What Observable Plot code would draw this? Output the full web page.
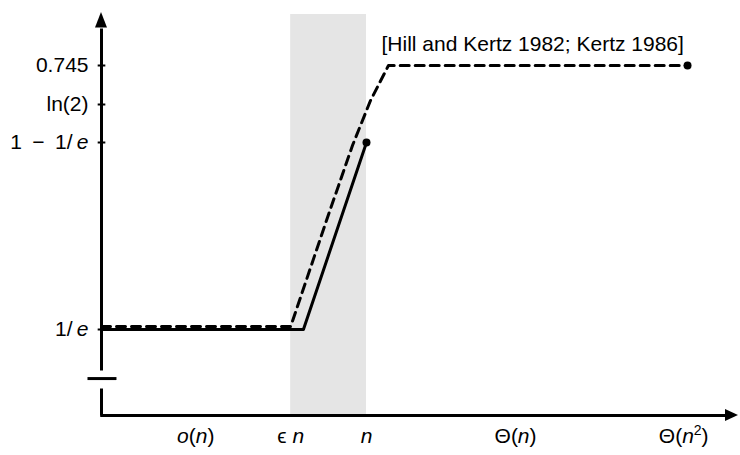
<!DOCTYPE html>
<html>
<head>
<meta charset="utf-8">
<script src="https://cdn.jsdelivr.net/npm/d3@7"></script>
<script src="https://cdn.jsdelivr.net/npm/@observablehq/plot@0.6"></script>
<style>
  html, body { margin: 0; padding: 0; background: #fff; }
</style>
</head>
<body>
<div id="chart"></div>
<script>
// ---- data (x in abstract units 0..100 along the horizontal axis; y in competitive ratio) ----
const invE = 1 / Math.E;            // 0.3679
const oneMinusInvE = 1 - 1 / Math.E; // 0.6321
const ln2 = Math.LN2;               // 0.6931
const topRatio = 0.745;

// solid curve
const solidX = [0, 31.7, 41.6];
const solidY = [invE, invE, oneMinusInvE];
// dashed curve [Hill and Kertz 1982; Kertz 1986]
const dashedX = [0, 29.7, 35.48, 39.4, 42.23, 45.05, 92];
const dashedY = [0.3721, 0.3721, 0.5262, 0.6279, 0.6984, topRatio, topRatio];

// shaded band between eps*n and n
const bandX = [29.7, 41.6];

// y tick values and labels (*...* = italic)
const yTickValues = [topRatio, ln2, oneMinusInvE, invE];
const yTickLabels = ["0.745", "ln(2)", "1\u2002\u2212\u20021/\u2009*e*", "1/\u2009*e*"];

// x tick positions and labels (*...* italic, ^...^ superscript)
const xTickValues = [14.8, 29.7, 41.6, 65, 91.4];
const xTickLabels = ["*o*(*n*)", "\u03f5 *n*", "*n*", "\u0398(*n*)", "\u0398(*n*^2^)"];

const refLabel = "[Hill and Kertz 1982; Kertz 1986]";

// ---- derived tables ----
const solid = solidX.map((x, i) => ({x, y: solidY[i]}));
const dashed = dashedX.map((x, i) => ({x, y: dashedY[i]}));
const yTicks = yTickValues.map((y, i) => ({y, label: yTickLabels[i]}));
const xTicks = xTickValues.map((x, i) => ({x, label: xTickLabels[i]}));

// axis geometry (in data units)
const yTop = 0.82;
const yArrowBase = 0.7974;
const breakLo = 0.1155, breakHi = 0.1926, breakMid = 0.158;
const xArrowBase = 97.96, xTip = 100;

const font = "'Liberation Sans', Arial, Helvetica, sans-serif";

const plot = Plot.plot({
  width: 740,
  height: 455,
  margin: 0,
  style: {fontFamily: font, fontSize: "21px", background: "white", color: "black"},
  x: {domain: [0, 100], range: [101, 738], axis: null},
  y: {
    type: "linear",
    domain: [0, invE, oneMinusInvE, ln2, topRatio, yTop],
    range: [415, 329, 142, 104, 65, 12],
    axis: null
  },
  marks: [
    // shaded band
    Plot.rect([{x1: bandX[0], x2: bandX[1]}], {x1: "x1", x2: "x2", y1: 0, y2: 0.8172, fill: "#e5e5e5"}),
    // x axis
    Plot.link([{}], {x1: -0.2, x2: xArrowBase, y1: 0, y2: 0, stroke: "black", strokeWidth: 3}),
    Plot.areaY([{x: xArrowBase, y1: -0.0257, y2: 0.0257}, {x: xTip, y1: 0, y2: 0}],
      {x: "x", y1: "y1", y2: "y2", fill: "black"}),
    // y axis with break
    Plot.link([{y1: 0, y2: breakLo}, {y1: breakHi, y2: yArrowBase}],
      {x1: 0, x2: 0, y1: "y1", y2: "y2", stroke: "black", strokeWidth: 3}),
    Plot.link([{}], {x1: -2.2, x2: 2.35, y1: breakMid, y2: breakMid, stroke: "black", strokeWidth: 3}),
    Plot.areaX([{y: yArrowBase + 0.0005, x1: -0.94, x2: 0.94}, {y: yTop, x1: 0, x2: 0}],
      {y: "y", x1: "x1", x2: "x2", fill: "black"}),
    // y ticks
    Plot.link(yTicks, {x1: -0.6, x2: 0.6, y1: "y", y2: "y", stroke: "black", strokeWidth: 2}),
    Plot.text(yTicks, {x: 0, y: "y", text: "label", dx: -13, textAnchor: "end", fontSize: 21}),
    // x tick labels
    Plot.text(xTicks, {x: "x", text: "label", frameAnchor: "bottom", dy: -13, fontSize: 21}),
    // curves
    Plot.line(dashed, {x: "x", y: "y", stroke: "black", strokeWidth: 3, strokeDasharray: "9,6"}),
    Plot.line(solid, {x: "x", y: "y", stroke: "black", strokeWidth: 3}),
    Plot.dot([solid[solid.length - 1], dashed[dashed.length - 1]], {x: "x", y: "y", r: 4, fill: "black"}),
    // reference label
    Plot.text([{x: 43.96, y: topRatio, t: refLabel}], {x: "x", y: "y", text: "t", dy: -21, textAnchor: "start", fontSize: 21})
  ]
});

// turn *..* into italic and ^..^ into superscript tspans
plot.querySelectorAll("text").forEach(t => {
  const s = t.textContent;
  if (!/[*^]/.test(s)) return;
  const esc = s.replace(/&/g, "&amp;").replace(/</g, "&lt;");
  t.innerHTML = esc
    .replace(/\*(.+?)\*/g, '<tspan font-style="italic">$1</tspan>')
    .replace(/\^(.+?)\^(.*)$/g, '<tspan font-size="14" dy="-8">$1</tspan><tspan dy="8">$2</tspan>');
});

document.getElementById("chart").appendChild(plot);
</script>
</body>
</html>
